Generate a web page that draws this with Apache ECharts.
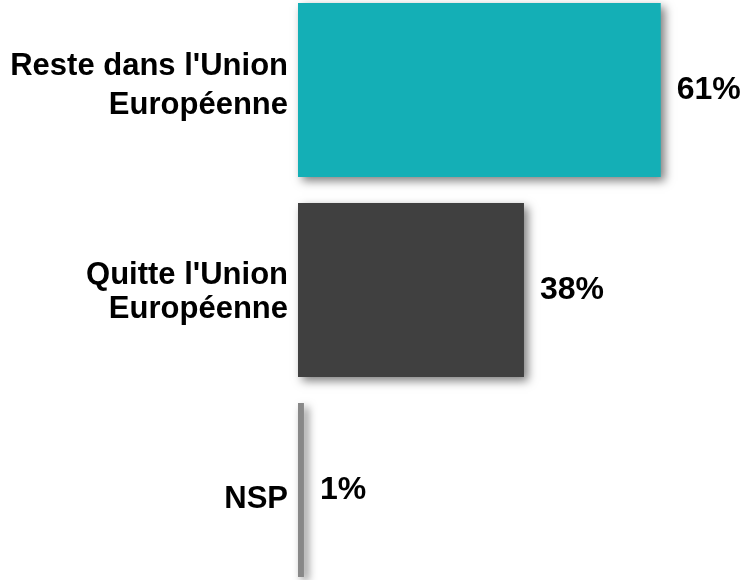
<!DOCTYPE html>
<html><head><meta charset="utf-8">
<script src="https://cdn.jsdelivr.net/npm/echarts@6/dist/echarts.min.js"></script>
<style>html,body{margin:0;padding:0;background:#fff}#c{width:745px;height:580px}</style>
</head><body><div id="c"></div>
<script>
const categories = ["Reste dans l'Union\nEuropéenne", "Quitte l'Union\nEuropéenne", "NSP"];
const values = [61, 38, 1];
const barColors = ["#14AFB6", "#404040", "#888888"];

const FONT = 'Liberation Sans, Arial, sans-serif';

function catLabel(value, index) {
  const lines = value.split('\n');
  if (index === 0) return lines.map(l => '{a|' + l + '}').join('\n') + '\n{s8| }';
  if (index === 1) return '{s4| }\n' + lines.map(l => '{b|' + l + '}').join('\n');
  return '{s18| }\n' + lines.map(l => '{b|' + l + '}').join('\n');
}

const chart = echarts.init(document.getElementById('c'), null, {renderer: 'canvas'});
chart.setOption({
  animation: false,
  grid: {left: 298, right: 1, top: 90, bottom: 90, containLabel: false},
  xAxis: {type: 'value', min: 0, max: 75, show: false},
  yAxis: {
    type: 'category', inverse: true, boundaryGap: false,
    data: categories,
    axisLine: {show: false}, axisTick: {show: false}, splitLine: {show: false},
    axisLabel: {
      formatter: catLabel, margin: 10, align: 'right',
      rich: {
        a: {fontFamily: FONT, fontWeight: 'bold', fontSize: 31, color: '#000', lineHeight: 39, align: 'right'},
        b: {fontFamily: FONT, fontWeight: 'bold', fontSize: 31, color: '#000', lineHeight: 34, align: 'right'},
        s4: {fontSize: 2, lineHeight: 4},
        s8: {fontSize: 2, lineHeight: 8},
        s18: {fontSize: 2, lineHeight: 18}
      }
    }
  },
  series: [{
    type: 'bar',
    barWidth: 174,
    clip: false,
    data: values.map((v, i) => ({value: v, itemStyle: {color: barColors[i]}})),
    itemStyle: {shadowColor: 'rgba(0,0,0,0.5)', shadowBlur: 9, shadowOffsetX: 4, shadowOffsetY: 4},
    label: {show: true, position: 'right', distance: 16, formatter: '{c}%', fontFamily: FONT, fontWeight: 'bold', fontSize: 32, color: '#000'}
  }]
});
</script></body></html>
